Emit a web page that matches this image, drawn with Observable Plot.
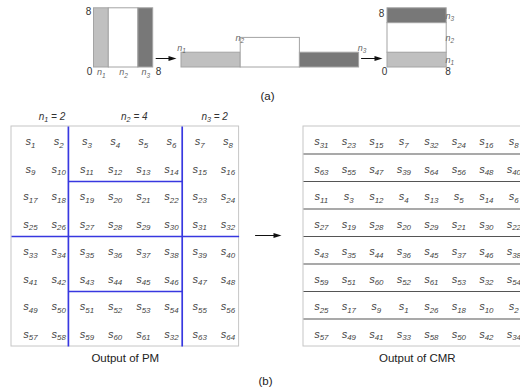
<!DOCTYPE html>
<html><head><meta charset="utf-8">
<script src="https://cdn.jsdelivr.net/npm/d3@7"></script>
<script src="https://cdn.jsdelivr.net/npm/@observablehq/plot@0.6"></script>
<style>body{margin:0;background:#fff}#chart{width:520px;height:391px;overflow:hidden}</style>
</head><body><div id="chart"></div>
<script>
// ---------- data ----------
const groupLabels = ["n_1", "n_2", "n_3"];
const groupSizes = [2, 4, 2];
const boxSide = 8;
const boxTicks = ["0", "8"];
const pmValues = [
  1, 2, 3, 4, 5, 6, 7, 8,
  9, 10, 11, 12, 13, 14, 15, 16,
  17, 18, 19, 20, 21, 22, 23, 24,
  25, 26, 27, 28, 29, 30, 31, 32,
  33, 34, 35, 36, 37, 38, 39, 40,
  41, 42, 43, 44, 45, 46, 47, 48,
  49, 50, 51, 52, 53, 54, 55, 56,
  57, 58, 59, 60, 61, 32, 63, 64
];
const cmrRows = [
  [31, 23, 15, 7, 32, 24, 16, 8],
  [63, 55, 47, 39, 64, 56, 48, 40],
  [11, 3, 12, 4, 13, 5, 14, 6],
  [27, 19, 28, 20, 29, 21, 30, 22],
  [43, 35, 44, 36, 45, 37, 46, 38],
  [59, 51, 60, 52, 61, 53, 32, 54],
  [25, 17, 9, 1, 26, 18, 10, 2],
  [57, 49, 41, 33, 58, 50, 42, 34]
];
const gridTitles = ["Output of PM", "Output of CMR"];
const panelLabels = ["(a)", "(b)"];
const symbolName = "s";

// ---------- layout & style ----------
const W = 520, H = 391;
const U = 7.4;
const A = {left: 93.5, mid: 181, right: 387, base: 67};
const G = {pm: 11, cmr: 303, top: 126, cw: 28.45, ch: 27.5, base: 18.7};
const TXT = {pm: {first: 19, pitch: 28.2}, cmr: {first: 17.8, pitch: 27.5}};
const FILL = ["#c0c0c0", "#ffffff", "#787878"];
const hdrDx = [12, 9, 4];
const FONT = "'Liberation Sans', Arial, Helvetica, sans-serif";

const cum = d3.cumsum(groupSizes);
const segs = groupSizes.map((n, i) => ({i, n, start: cum[i] - n, end: cum[i], label: groupLabels[i], fill: FILL[i]}));

// panel (a) rectangles
const rects = [
  ...segs.map(s => ({x1: A.left + U * s.start, x2: A.left + U * s.end, y1: A.base - U * boxSide, y2: A.base, fill: s.fill})),
  ...segs.map(s => ({x1: A.mid + U * boxSide * s.i, x2: A.mid + U * boxSide * (s.i + 1), y1: A.base - U * s.n, y2: A.base, fill: s.fill})),
  ...segs.map(s => ({x1: A.right, x2: A.right + U * boxSide, y1: A.base - U * s.end, y2: A.base - U * s.start, fill: s.fill}))
];
const boxTop = A.base - U * boxSide;
const tickLabels = [
  {x: A.left - 5.5, y: boxTop + 3, t: boxTicks[1]},
  {x: A.left - 4.5, y: A.base + 4, t: boxTicks[0]},
  {x: A.left + U * boxSide + 5.3, y: A.base + 4, t: boxTicks[1]},
  {x: A.right - 6, y: boxTop + 5, t: boxTicks[1]},
  {x: A.right - 3, y: A.base + 4.5, t: boxTicks[0]},
  {x: A.right + U * boxSide + 1.3, y: A.base + 4.5, t: boxTicks[1]}
];
const nLabels = [
  ...segs.map(s => ({x: A.left + U * (s.start + s.end) / 2, y: A.base + 5, t: s.label, a: "middle"})),
  {x: A.mid, y: A.base - U * segs[0].n - 4.5, t: segs[0].label, a: "start"},
  {x: A.mid + U * boxSide - 1, y: A.base - U * segs[1].n, t: segs[1].label, a: "end"},
  {x: A.mid + U * boxSide * 3 + 3, y: A.base - U * segs[2].n - 4.5, t: segs[2].label, a: "end"},
  ...segs.map(s => ({x: A.right + U * boxSide + 3, y: A.base - U * (s.start + s.end) / 2, t: s.label, a: "start"}))
];

// panel (b) grids
const gW = G.cw * boxSide, gH = G.ch * boxSide;
const grids = [{x1: G.pm, x2: G.pm + gW, y1: G.top, y2: G.top + gH}, {x1: G.cmr, x2: G.cmr + gW, y1: G.top, y2: G.top + gH}];
const cellText = (x0, tx) => ({
  x: d => x0 + tx.first + d.col * tx.pitch,
  y: d => G.top + d.row * G.ch + G.base,
  text: d => `${symbolName}_${d.v}`
});
const pmCells = pmValues.map((v, k) => ({v, row: Math.floor(k / boxSide), col: k % boxSide}));
const cmrCells = cmrRows.flatMap((row, r) => row.map((v, c) => ({v, row: r, col: c})));

const blue = [];
for (const s of segs.slice(0, -1)) blue.push({x1: G.pm + s.end * G.cw, x2: G.pm + s.end * G.cw, y1: G.top, y2: G.top + gH});
for (const s of segs) {
  const h = boxSide / s.n;
  for (let r = h; r < boxSide; r += h) blue.push({x1: G.pm + s.start * G.cw, x2: G.pm + s.end * G.cw, y1: G.top + r * G.ch, y2: G.top + r * G.ch});
}
const seps = d3.range(1, cmrRows.length).map(r => ({x1: G.cmr, x2: G.cmr + gW, y: G.top + r * G.ch}));
const headers = segs.map(s => ({x: G.pm + (s.start + s.end) / 2 * G.cw + hdrDx[s.i], y: 116, t: `${s.label} = ${s.n}`}));

// arrows
const arrowY = A.base - 9;
const arrows = [
  {x1: A.left + U * boxSide + 2.5, x2: A.mid - 5, y: arrowY},
  {x1: A.mid + U * boxSide * 3 + 2, x2: A.right - 5, y: arrowY},
  {x1: G.pm + gW + 16, x2: G.cmr - 22, y: G.top + 4 * G.ch - 1}
];
const HEAD = 4;
const arrowHead = {draw(ctx, size) { const r = Math.sqrt(size / Math.PI); ctx.moveTo(r, 0); ctx.lineTo(-r, -r * 0.6); ctx.lineTo(-r, r * 0.6); ctx.closePath(); }};

const titles = [
  {x: (grids[0].x1 + grids[0].x2) / 2, y: 358, t: gridTitles[0]},
  {x: (grids[1].x1 + grids[1].x2) / 2, y: 358, t: gridTitles[1]},
  {x: 267, y: 96, t: panelLabels[0]},
  {x: 265, y: 381, t: panelLabels[1]}
];

const svg = Plot.plot({
  width: W, height: H, margin: 0,
  style: {fontFamily: FONT, background: "#fff"},
  x: {domain: [0, W], range: [0, W], axis: null},
  y: {domain: [0, H], range: [0, H], axis: null},
  color: {type: "identity"},
  marks: [
    Plot.rect(rects, {x1: "x1", x2: "x2", y1: "y1", y2: "y2", fill: "fill", stroke: "#a4a4a4", strokeWidth: 1}),
    Plot.rect(grids, {x1: "x1", x2: "x2", y1: "y1", y2: "y2", fill: "none", stroke: "#c6c6c6", strokeWidth: 1}),
    Plot.link(seps, {x1: "x1", x2: "x2", y1: "y", y2: "y", stroke: "#555", strokeWidth: 1.2}),
    Plot.link(blue, {x1: "x1", x2: "x2", y1: "y1", y2: "y2", stroke: "#3838e0", strokeWidth: 1.7}),
    Plot.link(arrows, {x1: "x1", x2: d => d.x2 - HEAD, y1: "y", y2: "y", stroke: "#111", strokeWidth: 1}),
    Plot.dot(arrows, {x: d => d.x2 - HEAD, y: "y", symbol: arrowHead, r: HEAD, fill: "#111", stroke: "none"}),
    Plot.text(tickLabels, {x: "x", y: "y", text: "t", fontSize: 10, fill: "#333"}),
    Plot.text(nLabels, {x: "x", y: "y", text: "t", textAnchor: "a", fontSize: 9, fontStyle: "italic", fill: "#666"}),
    Plot.text(headers, {x: "x", y: "y", text: "t", fontSize: 10, fontStyle: "italic", fill: "#333"}),
    Plot.text(pmCells, {...cellText(G.pm, TXT.pm), lineAnchor: "bottom", fontSize: 11, fontStyle: "italic", fill: "#444"}),
    Plot.text(cmrCells, {...cellText(G.cmr, TXT.cmr), lineAnchor: "bottom", fontSize: 11, fontStyle: "italic", fill: "#444"}),
    Plot.text(titles, {x: "x", y: "y", text: "t", fontSize: 11.5, fill: "#222"})
  ]
});

// render "x_12" as x with subscript 12
const NS = "http://www.w3.org/2000/svg";
svg.querySelectorAll("text").forEach(t => {
  const m = /^([^_]*)_(\d+)(.*)$/.exec(t.textContent);
  if (!m) return;
  t.textContent = "";
  const add = (s, attrs) => { const e = document.createElementNS(NS, "tspan"); for (const k in attrs) e.setAttribute(k, attrs[k]); e.textContent = s; t.appendChild(e); };
  add(m[1], {});
  add(m[2], {"font-size": "72%", dy: "0.35em"});
  if (m[3]) add(m[3], {dy: "-0.252em"});
});
document.getElementById("chart").appendChild(svg);
</script>
</body></html>
